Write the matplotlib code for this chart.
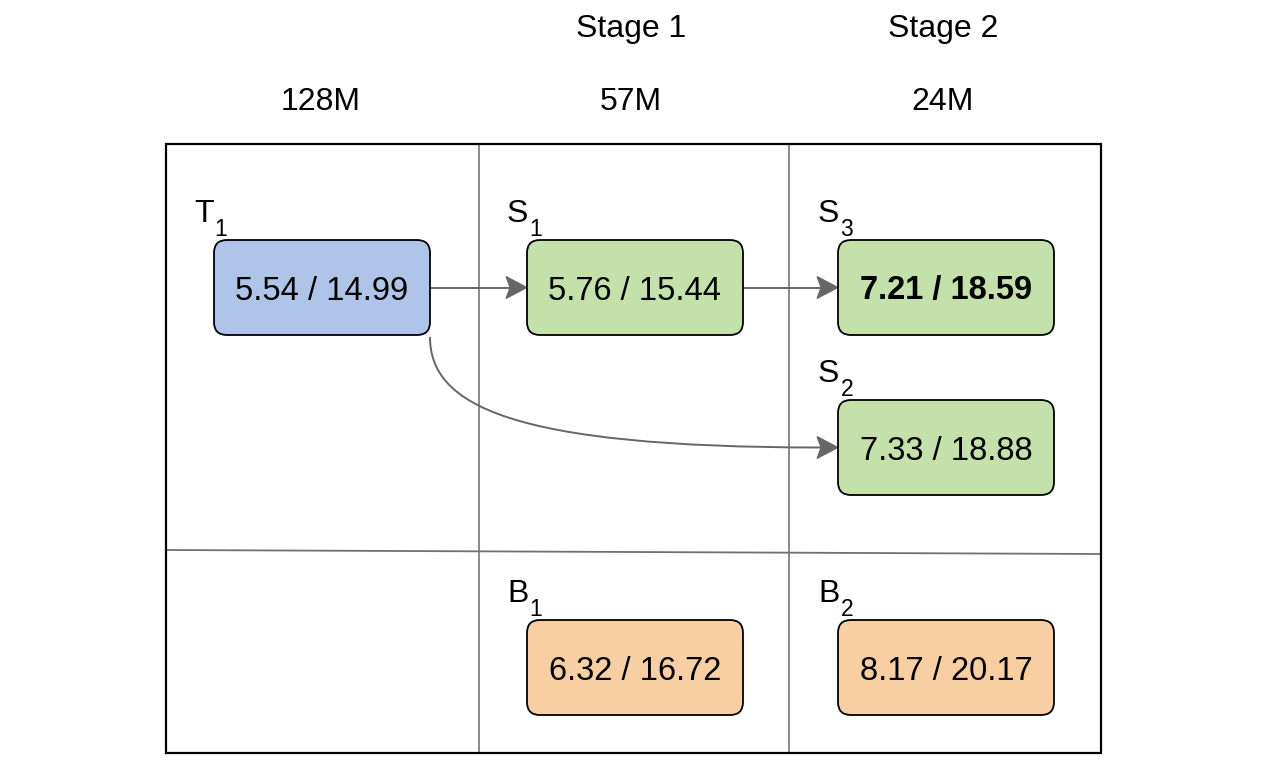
import matplotlib
matplotlib.use("Agg")
import matplotlib.pyplot as plt
from matplotlib.patches import FancyBboxPatch, PathPatch, Rectangle, Polygon
from matplotlib.path import Path
from matplotlib.lines import Line2D

# ---- data ----
stage_titles = ["", "Stage 1", "Stage 2"]
param_counts = ["128M", "57M", "24M"]
node_letters = ["T", "S", "S", "S", "B", "B"]
node_subs = ["1", "1", "3", "2", "1", "2"]
node_values = ["5.54 / 14.99", "5.76 / 15.44", "7.21 / 18.59",
               "7.33 / 18.88", "6.32 / 16.72", "8.17 / 20.17"]
node_kind = ["teacher", "student", "student", "student", "baseline", "baseline"]
node_bold = [False, False, True, False, False, False]
edges = [(0, 1), (1, 2), (0, 3)]

# ---- layout (pixel units) ----
W, H = 1266, 760
col_centers = [321, 631, 943]
node_pos = [(214, 240), (527, 240), (838, 240), (838, 400), (527, 620), (838, 620)]
box_w, box_h = 216, 95
colors = {"teacher": "#AEC5E9", "student": "#C4E0AB", "baseline": "#F7CFA3"}
font = "Liberation Sans"
edge_color = "#666666"
head_len, head_half, notch = 21, 11, 17

fig = plt.figure(figsize=(W / 100, H / 100), dpi=100)
ax = fig.add_axes([0, 0, 1, 1])
ax.set_xlim(0, W)
ax.set_ylim(H, 0)
ax.axis("off")

# grid
ax.add_patch(Rectangle((166, 144), 935, 609, fill=False, ec="black", lw=1.6, zorder=3))
for x in (479, 789):
    ax.add_line(Line2D([x, x], [144, 753], color="#808080", lw=1.3, zorder=2))
ax.add_line(Line2D([166, 1101], [550, 554], color="#707070", lw=1.3, zorder=2))

# headers
for cx, t, p in zip(col_centers, stage_titles, param_counts):
    if t:
        ax.text(cx, 37, t, ha="center", va="baseline", fontsize=23, family=font)
    ax.text(cx, 110, p, ha="center", va="baseline", fontsize=23, family=font)

# nodes
for (x, y), letter, sub, val, kind, bold in zip(node_pos, node_letters, node_subs,
                                                 node_values, node_kind, node_bold):
    ax.add_patch(FancyBboxPatch((x, y), box_w, box_h,
                                boxstyle="round,pad=0,rounding_size=13",
                                fc=colors[kind], ec="black", lw=1.3, zorder=4))
    ax.text(x + box_w / 2, y + box_h / 2 + 12, val, ha="center", va="baseline",
            fontsize=23.5, family=font, fontweight="bold" if bold else "normal", zorder=5)
    lx = x - 20
    lt = ax.text(lx, y - 18, letter, ha="left", va="baseline", fontsize=23,
                 family=font, zorder=5)
    ax.annotate(sub, xy=(1, 0), xycoords=lt, xytext=(1, -7), textcoords="offset pixels",
                ha="left", va="baseline", fontsize=16.5, family=font, zorder=5)


def right_mid(i):
    x, y = node_pos[i]
    return (x + box_w, y + box_h / 2)


def left_mid(i):
    x, y = node_pos[i]
    return (x, y + box_h / 2)


def head(xb, yb):
    ax.add_patch(Polygon([(xb, yb), (xb - head_len, yb - head_half),
                          (xb - notch, yb), (xb - head_len, yb + head_half)],
                         closed=True, fc=edge_color, ec=edge_color, lw=0.8, zorder=3))


for a, b in edges:
    pa, pb = right_mid(a), left_mid(b)
    xb, yb = pb
    if abs(pa[1] - pb[1]) < 1:
        ax.add_line(Line2D([pa[0], xb - notch], [yb, yb], color=edge_color, lw=1.4, zorder=3))
    else:
        xa, ya = node_pos[a][0] + box_w, node_pos[a][1] + box_h + 2
        path = Path([(xa, ya), (xa, 405), (xa + 80, yb), (xb - notch, yb)],
                    [Path.MOVETO, Path.CURVE4, Path.CURVE4, Path.CURVE4])
        ax.add_patch(PathPatch(path, fill=False, ec=edge_color, lw=1.4, zorder=3))
    head(xb, yb)

fig.savefig("out.png", dpi=100)
